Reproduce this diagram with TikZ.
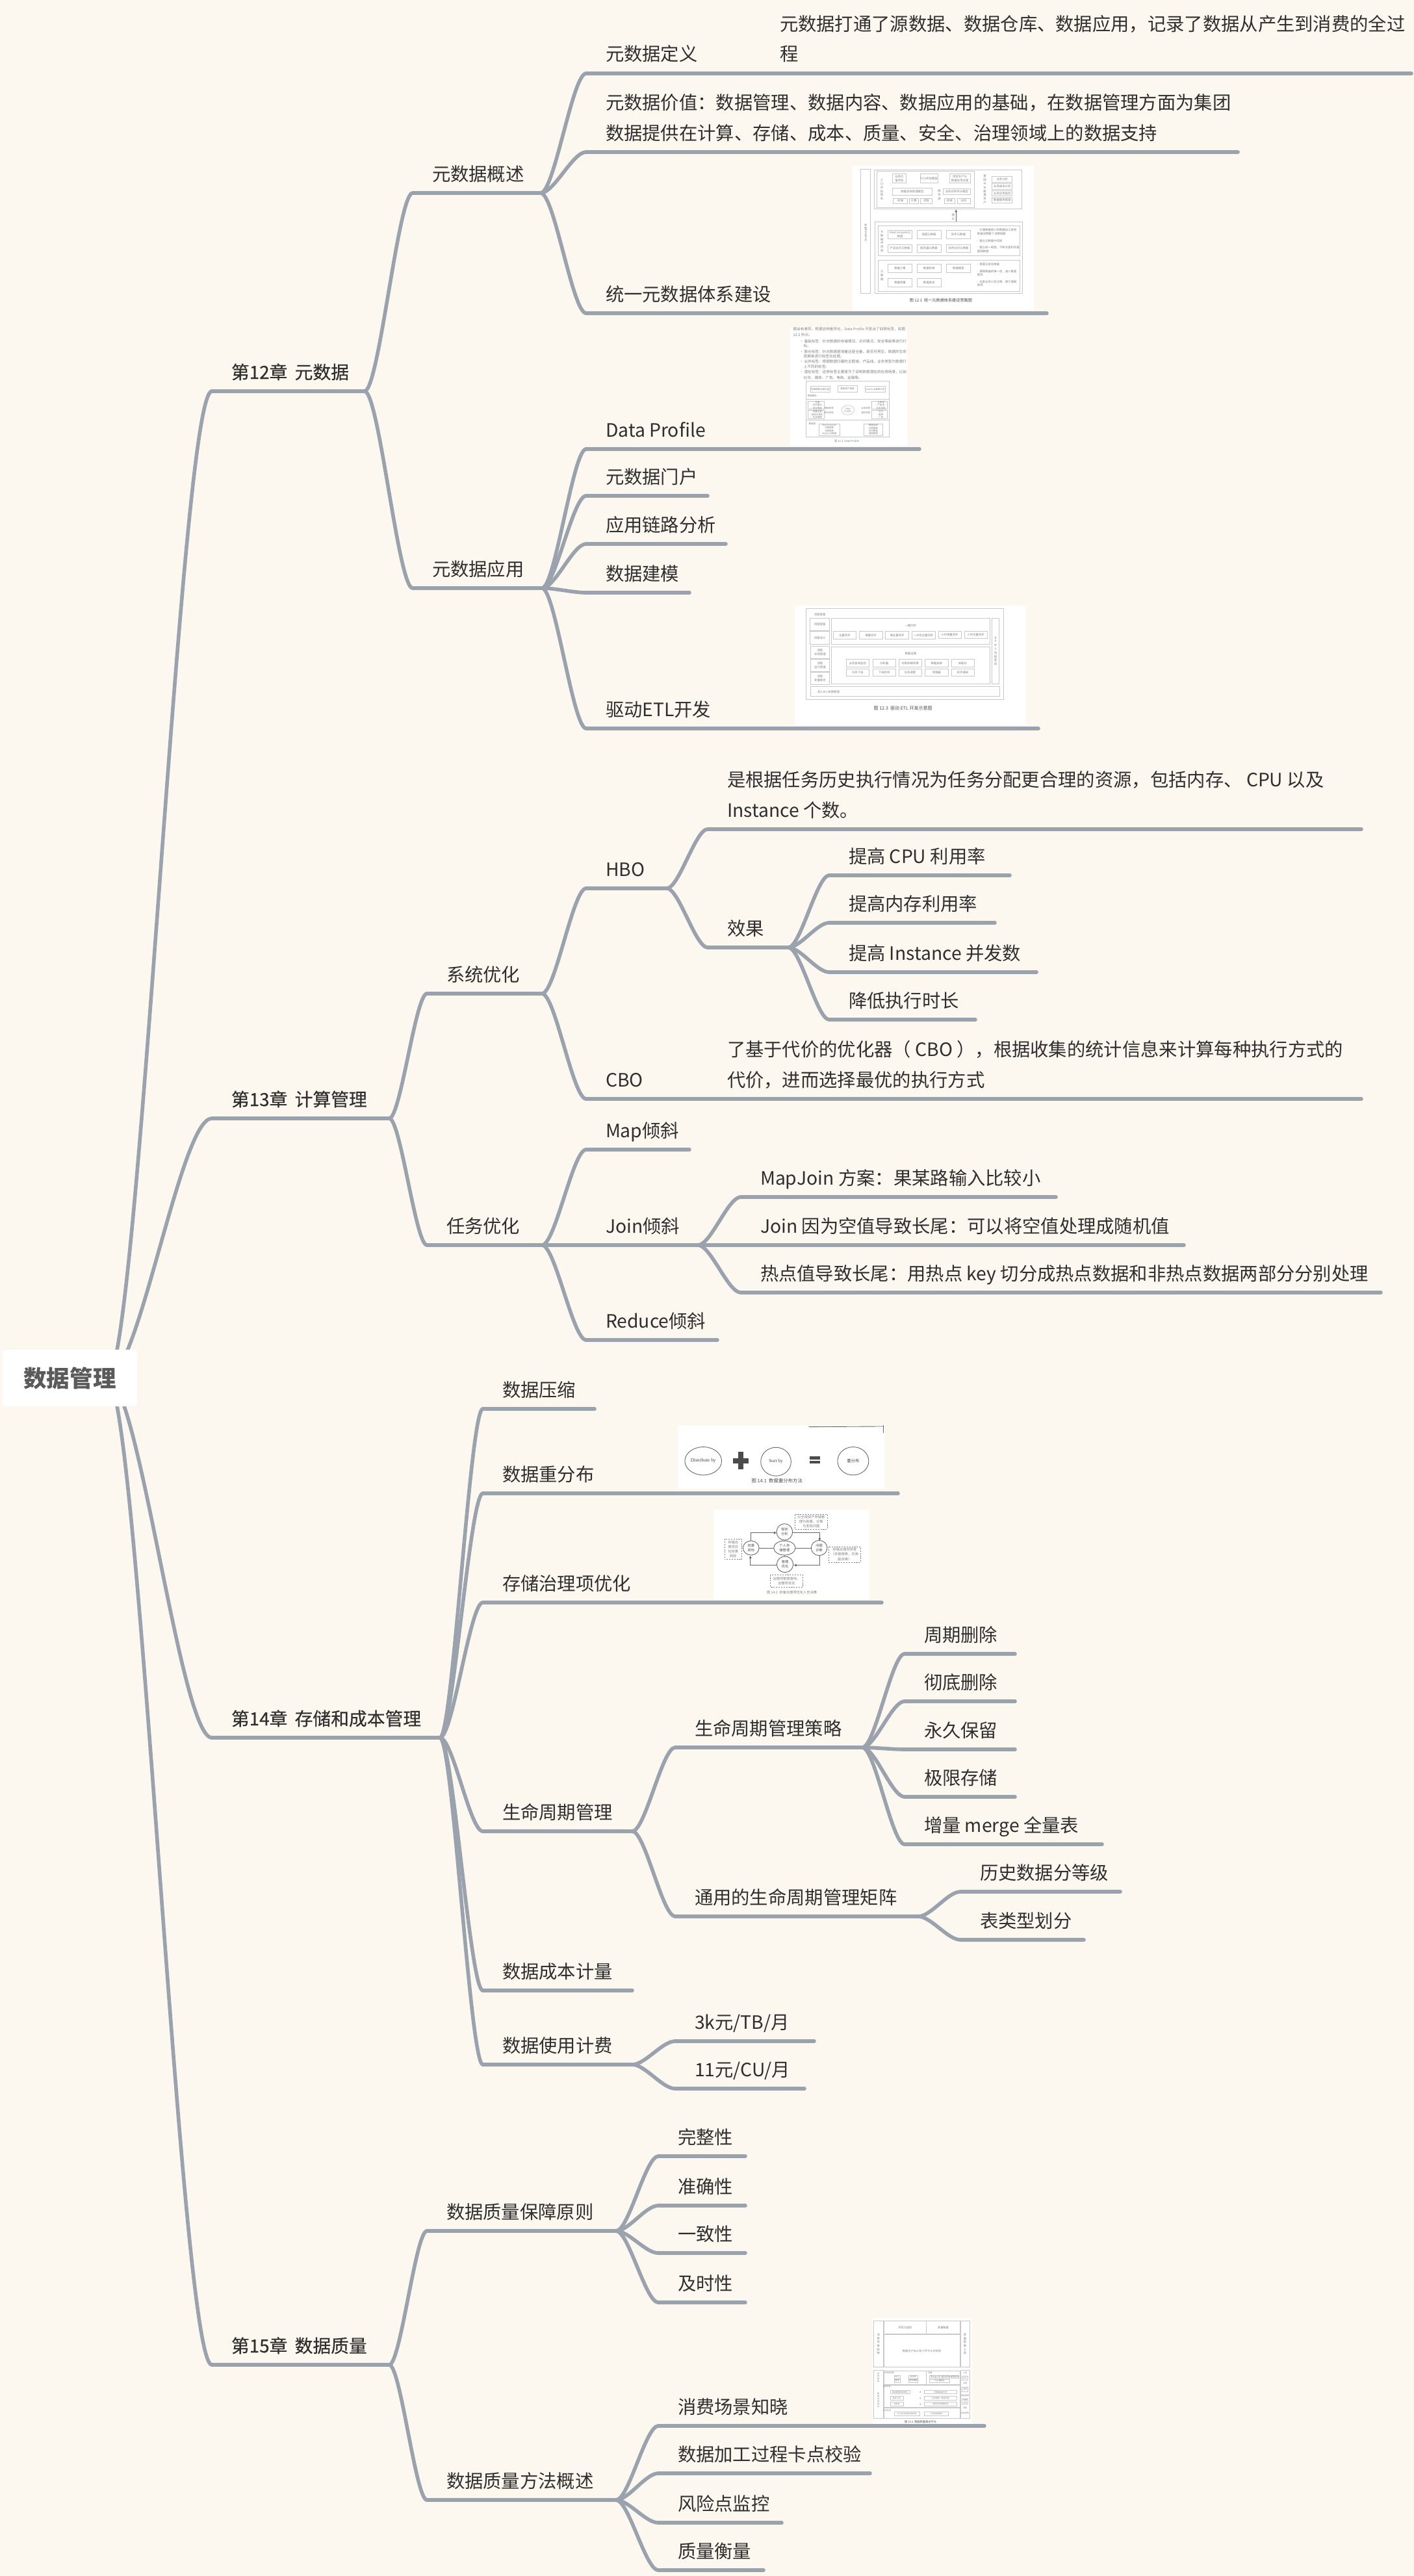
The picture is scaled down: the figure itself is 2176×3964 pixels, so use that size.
\documentclass[tikz,border=0pt]{standalone}
\usepackage{fontspec}
\setmainfont{Noto Sans CJK SC}
\newfontfamily\mdfont[FakeBold=0.4]{Noto Sans CJK SC}
\newfontfamily\serfont{Liberation Serif}
\usetikzlibrary{calc,arrows.meta}
\definecolor{bgc}{HTML}{FCF8F0}
\definecolor{linec}{HTML}{9AA3AD}
\definecolor{txtc}{HTML}{2E2E2E}
\definecolor{rootc}{HTML}{5A5A5A}
\definecolor{figl}{HTML}{C8C8C8}
\definecolor{figt}{HTML}{808080}
\pgfdeclarelayer{back}
\pgfdeclarelayer{bg}
\pgfsetlayers{back,bg,main}
\def\figa{1.25}\def\figb{1.65}\def\fdsz{1.75}
\tikzset{
  edge/.style={draw=linec,line width=1.6pt,line cap=round},
  tn/.style={inner xsep=0pt,inner ysep=5.4pt,outer sep=0pt,anchor=south west,text depth=0pt,text=txtc,font=\fontsize{8.05}{13.3}\selectfont},
  fbox/.style={draw=figl,line width=0.2pt},
  dbox/.style={draw=figt,line width=0.2pt,dashed,dash pattern=on 0.6pt off 0.5pt},
  ft/.style={inner sep=0pt,align=center,text=figt,font=\fontsize{\figa}{\figb}\selectfont},
  fd/.style={ft,text=black!70,font=\fontsize{\fdsz}{3}\selectfont},
  fl/.style={ft,anchor=west,align=left},
  figw/.style={fill=white,draw=none},
  fline/.style={draw=black!60,line width=0.25pt},
}
% name, x0, x1, y, text
\newcommand\bc[6][30]{%
  \pgfmathsetlengthmacro\nwid{(#4-#3)*0.01cm}%
  \pgfmathsetlengthmacro\nhs{#1*0.01cm}%
  \node[tn] (#2) at (#3,#5) {\makebox[\nwid][l]{\hspace{\nhs}\begin{tabular}[b]{@{}l@{}}#6\end{tabular}}};
  \draw[edge] (#2.south west) -- (#2.south east);}
\newcommand\bm[6][30]{%
  \pgfmathsetlengthmacro\nwid{(#4-#3)*0.01cm}%
  \pgfmathsetlengthmacro\nhs{#1*0.01cm}%
  \node[tn,font=\fontsize{7.9}{13.3}\mdfont] (#2) at (#3,#5) {\makebox[\nwid][l]{\hspace{\nhs}#6}};
  \draw[edge] (#2.south west) -- (#2.south east);}
\newcommand\cn[3][0.3]{%
  \begin{pgfonlayer}{bg}
  \draw[edge] let \p1=(#2.south east), \p2=(#3.south west) in
    (\p1) .. controls ({\x1+#1*(\x2-\x1)},\y1) and ({\x2-#1*(\x2-\x1)},\y2) .. (\p2);
  \end{pgfonlayer}}
\newcommand\crt[3][0.3]{%
  \begin{pgfonlayer}{bg}
  \draw[edge] let \p1=(#2), \p2=(#3.south west) in
    (\p1) .. controls ({\x1+#1*(\x2-\x1)},\y1) and ({\x2-#1*(\x2-\x1)},\y2) .. (\p2);
  \end{pgfonlayer}}
\newcounter{fign}
\newcommand\fb[5]{\stepcounter{fign}\draw[fbox] (#1,#2) rectangle (#3,#4); \node[ft,name=f\arabic{fign}] at ({(#1+#3)/2},{(#2+#4)/2}) {#5};}
\newcommand\ftx[3]{\stepcounter{fign}\node[ft,name=f\arabic{fign}] at (#1,#2) {#3};}
\newcommand\ftl[3]{\stepcounter{fign}\node[fl,name=f\arabic{fign}] at (#1,#2) {#3};}
\newcommand\fdt[3]{\stepcounter{fign}\node[fd,name=f\arabic{fign}] at (#1,#2) {#3};}
\newcommand\fe[6]{\stepcounter{fign}\draw[fline,fill=white] (#1,#2) ellipse [x radius=#3,y radius=#4]; \node[#5,name=f\arabic{fign}] at (#1,#2) {#6};}
\begin{document}
\begin{tikzpicture}[x=0.01cm,y=-0.01cm]
\useasboundingbox (0,0) rectangle (2176,3964);
\begin{pgfonlayer}{back}
\fill[bgc] (0,0) rectangle (2176,3964);
\end{pgfonlayer}

% ---------- Figure 12.1
\begin{scope}[shift={(1200,230)},x=0.00333333cm,y=-0.00333333cm]
\fill[figw] (335,75) rectangle (1175,745);
\fb{375}{92}{420}{665}{}
\ftx{397}{385}{\rotatebox{90}{OneMeta体系}}
\draw[fbox] (437,95) rectangle (1120,275);
\draw[fbox] (450,100) rectangle (900,268);
\ftx{472}{185}{入\\口\\评\\估\\体\\系}
\fb{520}{113}{585}{155}{业务价\\值评估}
\fb{650}{113}{730}{155}{TCO评估模型}
\fb{785}{113}{880}{155}{项目生产与\\数据应用治理}
\fb{520}{178}{705}{210}{数据资源管理模型}
\fb{525}{225}{590}{250}{存储}
\fb{600}{225}{640}{250}{计算}
\fb{650}{225}{705}{250}{流程}
\fb{755}{180}{880}{208}{业务应用评分模型}
\fb{760}{225}{810}{250}{存储}
\fb{820}{225}{880}{250}{访问}
\ftx{738}{210}{服\\务\\部}
\ftx{948}{185}{基\\础\\平\\台\\数\\据\\资\\产}
\fb{982}{125}{1075}{150}{业务分析}
\fb{982}{158}{1075}{183}{业务成本分析}
\fb{982}{190}{1075}{215}{业务应用监控}
\fb{982}{222}{1075}{247}{数据服务图谱}
\draw[fline,-{Latex[length=1.2pt,width=1.2pt]}] (815,335) -- (815,277);
\ftx{802}{312}{建\\议}
\draw[fbox] (440,335) rectangle (1122,665);
\draw[fbox] (455,352) rectangle (1110,492);
\ftx{473}{425}{大\\数\\据\\中\\间\\层}
\fb{500}{375}{612}{412}{MaxCompute元\\数据}
\fb{635}{375}{745}{412}{调度元数据}
\fb{770}{375}{882}{412}{同步元数据}
\fb{500}{440}{612}{475}{产品访问元数据}
\fb{635}{440}{745}{475}{服务器元数据}
\fb{770}{440}{882}{475}{应用访问元数据}
\ftl{905}{382}{· 打通数据接入到数据加工再到\\\ \ 数据消费整个消费链路}
\ftl{905}{423}{· 建立元数据中间层}
\ftl{905}{463}{· 建立统一视图^^^^ff0c不断丰富和完善\\\ \ 基础数据}
\draw[fbox] (455,512) rectangle (1110,655);
\ftx{473}{583}{元\\数\\据}
\fb{500}{530}{612}{570}{数据计算}
\fb{635}{530}{745}{570}{数据存储}
\fb{770}{530}{882}{570}{数据模型}
\fb{500}{595}{612}{635}{数据质量}
\fb{635}{595}{745}{635}{数据成本}
\ftl{905}{532}{· 梳理元信息数据}
\ftl{905}{572}{· 保障数据的唯一性^^^^ff0c减少重复\\\ \ 建设}
\ftl{905}{620}{· 丰富业务口径注释^^^^ff0c便于理解\\\ \ 使用}
\fdt{745}{698}{图 12.1\ \ 统一元数据体系建设思路图}

% ---------- Figure 12.2
\fill[figw] (48,820) rectangle (590,1370);
\def\figa{1.6}\def\figb{2.4}
\ftl{60}{832}{据会有差异。根据这种差异化^^^^ff0cData Profile 开发出了四类标签^^^^ff0c如图}
\ftl{60}{857}{12.2 所示。}
\ftl{90}{886}{• 基础标签^^^^ff1a针对数据的存储情况、访问情况、安全等级等进行打}
\ftl{108}{910}{标。}
\ftl{90}{935}{• 数仓标签^^^^ff1a针对数据是增量还是全量、是否可再生、数据的生命}
\ftl{108}{958}{周期来进行标签化处理。}
\ftl{90}{982}{• 业务标签^^^^ff1a根据数据归属的主题域、产品线、业务类型为数据打}
\ftl{108}{1006}{上不同的标签。}
\ftl{90}{1030}{• 潜在标签^^^^ff1a这类标签主要是为了说明数据潜在的应用场景^^^^ff0c比如}
\ftl{108}{1055}{社交、媒体、广告、电商、金融等。}
\def\figa{1}\def\figb{1.25}
\draw[fbox] (122,1072) rectangle (505,1330);
\fb{142}{1095}{232}{1122}{存储数据治理大盘}
\fb{268}{1092}{358}{1122}{数据资产视图}
\fb{395}{1095}{487}{1122}{OneClick数据工具}
\ftx{150}{1140}{数据服务}
\draw[fbox] (122,1155) rectangle (505,1252);
\fb{130}{1165}{205}{1200}{· 存储\\· 访问情况\\· 安全等级}
\fb{130}{1205}{205}{1245}{· 增量全量\\· 是否可再生\\· 生命周期}
\ftx{228}{1195}{基础标签}
\ftx{228}{1217}{数仓标签}
\ftx{398}{1195}{业务标签}
\ftx{398}{1217}{潜在标签}
\ftx{315}{1205}{Data\\Profile}
\draw[fbox] (315,1205) ellipse [x radius=30,y radius=22];
\fb{425}{1165}{498}{1200}{· 主题域\\· 产品线\\· 业务类型}
\fb{425}{1205}{498}{1245}{· 社交\\· 媒体\\· 广告}
\ftx{150}{1270}{数据源}
\fb{180}{1268}{278}{1322}{MaxCompute\\元数据表\\元数据表\\MySQL元数据}
\fb{390}{1268}{475}{1322}{数据血缘\\元数据表\\访问数据\\调度数据}
\def\figa{1.2}
\ftx{310}{1348}{图 12.2\ \ Data Profile}
\end{scope}

% ---------- Figure 12.3
\begin{scope}[shift={(1200,900)},x=0.00333333cm,y=-0.00333333cm]
\def\fdsz{2}
\fill[figw] (70,95) rectangle (1140,650);
\draw[fbox] (120,110) rectangle (1035,530);
\ftx{185}{137}{流程管理}
\fb{140}{155}{230}{210}{流程管理}
\fb{140}{215}{230}{275}{流程设计}
\fb{142}{282}{230}{340}{流程\\实例管理}
\fb{142}{345}{230}{400}{流程\\运行管理}
\fb{142}{405}{230}{460}{流程\\变量绑定}
\draw[fbox] (238,155) rectangle (972,275);
\ftx{605}{190}{一键同步}
\fb{248}{215}{352}{250}{全量同步}
\fb{367}{215}{475}{250}{增量同步}
\fb{488}{215}{597}{250}{增全量同步}
\fb{610}{215}{718}{250}{一次性全量同步}
\fb{733}{213}{838}{247}{小时增量同步}
\fb{853}{213}{960}{247}{小时全量同步}
\draw[fbox] (238,285) rectangle (972,458);
\ftx{605}{318}{数据运维}
\fb{307}{345}{413}{380}{业务查询监控}
\fb{430}{345}{535}{380}{分析器}
\fb{550}{345}{655}{380}{对象依赖转换}
\fb{672}{345}{778}{380}{数据血缘}
\fb{793}{345}{898}{380}{单备份}
\fb{307}{388}{413}{422}{任务下线}
\fb{430}{388}{535}{422}{下线检测}
\fb{550}{388}{655}{422}{任务调度}
\fb{672}{388}{778}{422}{清理器}
\fb{793}{388}{898}{422}{异步通知}
\fb{980}{155}{1015}{458}{B\\P\\M\\S\\流\\程\\驱\\动}
\draw[fbox] (142,470) rectangle (1018,516);
\ftx{225}{496}{流入ACL权限管理}
\fdt{570}{571}{图 12.3\ \ 驱动 ETL 开发示意图}
\end{scope}

% ---------- Figure 14.1 and 14.2
\begin{scope}[shift={(1020,2170)},x=0.00333333cm,y=-0.00333333cm]
\def\fdsz{2.1}
\def\figa{1.5}\def\figb{2}
\fill[figw] (70,70) rectangle (1025,365);
\draw[fline] (675,77) -- (1020,75);
\draw[fline] (1020,70) -- (1020,105);
\fe{187}{235}{85}{65}{ft,text=black!75,font=\fontsize{2.1}{3}\serfont}{Distribute by}
\fill[black!70] (350,193) rectangle (372,273);
\fill[black!70] (323,222) rectangle (397,245);
\fe{523}{238}{70}{66}{ft,text=black!75,font=\fontsize{2.1}{3}\serfont}{Sort by}
\fill[black!70] (678,213) rectangle (728,229);
\fill[black!70] (678,233) rectangle (728,247);
\fe{880}{235}{72}{65}{ft,text=black!75,font=\fontsize{1.8}{3}\selectfont}{重分布}
\fdt{528}{326}{图 14.1\ \ 数据重分布方法}

\fill[figw] (235,460) rectangle (955,875);
\draw[fline,-{Latex[length=1.2pt,width=1.2pt]}] (408,604) |- (527,567);
\draw[fline,-{Latex[length=1.2pt,width=1.2pt]}] (600,567) -| (725,605);
\draw[fline,-{Latex[length=1.2pt,width=1.2pt]}] (725,672) |- (605,717);
\draw[fline,-{Latex[length=1.2pt,width=1.2pt]}] (527,717) -| (405,672);
\draw[fline] (445,637) -- (513,637);
\draw[fline] (613,637) -- (686,637);
\draw[fline] (563,601) -- (563,604);
\draw[fline] (563,670) -- (563,676);
\fe{563}{563}{37}{38}{ft,text=black!70}{现状\\分析}
\fe{563}{637}{50}{33}{ft,text=black!70}{个人存\\储管理}
\fe{723}{637}{37}{35}{ft,text=black!70}{问题\\诊断}
\fe{408}{637}{37}{33}{ft,text=black!70}{效果\\目标}
\fe{565}{713}{38}{37}{ft,text=black!70}{管理\\优化}
\draw[dbox] (610,483) rectangle (762,550);
\ftx{686}{516}{以全域资产存储管\\理为视角^^^^ff0c诊断\\与发现问题}
\draw[dbox] (285,595) rectangle (365,690);
\ftx{325}{642}{存储治\\理项优\\化效果\\回收}
\draw[dbox] (767,632) rectangle (915,703);
\ftx{841}{667}{存储治理项排查\\^^^^ff08未管理表^^^^ff0c无用\\副本等^^^^ff09}
\draw[dbox] (497,762) rectangle (647,817);
\ftx{572}{790}{治理项管理落地^^^^ff0c\\治理项优化}
\ftx{597}{842}{图 14.2\ \ 存储治理项优化人员决策}
\end{scope}

% ---------- Figure 15.2
\begin{scope}[shift={(1320,3550)},x=0.00333333cm,y=-0.00333333cm]
\def\figa{1.2}\def\figb{1.6}\def\fdsz{1.2}
\fill[figw] (70,50) rectangle (528,545);
\fb{72}{65}{118}{278}{消\\费\\场\\景\\知\\晓}
\fb{120}{65}{318}{125}{风险点监控}
\fb{318}{65}{472}{125}{质量衡量}
\fb{120}{127}{472}{278}{数据生产加工各个环节卡点校验}
\fb{475}{65}{517}{278}{质\\量\\配\\套\\工\\具}
\def\figa{0.85}\def\figb{1.15}
\draw[fbox] (72,293) rectangle (118,515);
\ftx{95}{325}{流\\程\\制\\度}
\ftx{95}{430}{数\\据\\治\\理\\规\\范}
\draw[fbox] (120,295) rectangle (315,357);
\ftx{146}{303}{应用层告警}
\fb{168}{315}{195}{330}{DQC}
\fb{235}{315}{278}{330}{规则库}
\fb{168}{333}{195}{348}{离线}
\fb{235}{333}{278}{348}{实时预警}
\draw[fbox] (318,295) rectangle (472,357);
\ftx{335}{303}{质量}
\fb{333}{315}{360}{328}{影响}
\fb{362}{315}{388}{328}{分析}
\fb{390}{315}{425}{328}{基线管理}
\fb{430}{315}{468}{328}{质量报告}
\fb{333}{333}{425}{350}{DQC覆盖度}
\draw[fbox] (120,360) rectangle (472,463);
\ftx{135}{369}{事后系统}
\fb{150}{385}{240}{402}{离线数据校验规则}
\fb{308}{385}{458}{402}{元数据血缘分析}
\fb{150}{413}{210}{430}{监控工具}
\fb{308}{413}{458}{430}{在线离线一致性校验}
\fb{150}{441}{210}{458}{对账单}
\fb{308}{441}{458}{458}{离线实时数据校验}
\draw[fill=figt,draw=none] (287,390) -- (293,393) -- (287,396) -- cycle;
\draw[fill=figt,draw=none] (287,418) -- (293,421) -- (287,424) -- cycle;
\draw[fill=figt,draw=none] (287,446) -- (293,449) -- (287,452) -- cycle;
\draw[fbox] (120,467) rectangle (472,515);
\ftx{135}{479}{业务系统}
\fb{170}{485}{285}{502}{ACL访问控制业务校验}
\fb{308}{485}{420}{502}{业务校验规则}
\draw[fbox] (475,293) rectangle (517,515);
\ftx{496}{305}{工具}
\fb{483}{320}{510}{336}{DQC}
\ftx{496}{354}{治理}
\fb{483}{370}{510}{392}{监控}
\ftx{496}{410}{基线管理}
\fb{483}{425}{510}{450}{血缘\\分析}
\ftx{496}{467}{流程}
\ftx{496}{492}{基线管理}
\fdt{290}{530}{图 15.2\ \ 数据质量建设平台}
\end{scope}

% ---------- root
\node[fill=white,rounded corners=1.2pt,minimum width=2.07cm,minimum height=0.87cm,inner sep=0pt,text=rootc,font=\fontsize{10.1}{12}\selectfont\bfseries] (root) at (107.5,2120.5) {数据管理};
\coordinate (rootj) at (165,2120.5);

% ---------- tree
\bm{c12}{326}{561}{602}{第12章\hspace{0.05cm} 元数据}
\bm{c13}{326}{599}{1721}{第13章\hspace{0.05cm} 计算管理}
\bm{c14}{326}{677}{2674}{第14章\hspace{0.05cm} 存储和成本管理}
\bm{c15}{326}{599}{3639}{第15章\hspace{0.05cm} 数据质量}

\bc{a1}{635}{832}{297}{元数据概述}
\bc{a2}{635}{834}{905}{元数据应用}
\bc{b1}{657}{834}{1529}{系统优化}
\bc{b2}{657}{834}{1916}{任务优化}
\bc{d1}{743}{915}{2168}{数据压缩}
\bc{d2}{743}{1382}{2298}{数据重分布}
\bc{d3}{743}{1357}{2466}{存储治理项优化}
\bc{d4}{743}{973}{2818}{生命周期管理}
\bc{d5}{743}{973}{3063}{数据成本计量}
\bc{d6}{743}{973}{3177}{数据使用计费}
\bc{e1}{657}{948}{3433}{数据质量保障原则}
\bc{e2}{657}{948}{3847}{数据质量方法概述}

\bc{a11}{902}{1170}{113}{元数据定义}
\bc{a11n}{1170}{2172}{113}{元数据打通了源数据、数据仓库、数据应用^^^^ff0c记录了数据从产生到消费的全过\\程}
\bc{a12}{902}{1905}{234}{元数据价值^^^^ff1a数据管理、数据内容、数据应用的基础^^^^ff0c在数据管理方面为集团\\数据提供在计算、存储、成本、质量、安全、治理领域上的数据支持}
\bc{a13}{902}{1611}{482}{统一元数据体系建设}
\bc{a21}{902}{1415}{691}{Data Profile}
\bc{a22}{902}{1089}{763}{元数据门户}
\bc{a23}{902}{1117}{837}{应用链路分析}
\bc{a24}{902}{1061}{912}{数据建模}
\bc{a25}{902}{1598}{1121}{驱动ETL开发}

\bc{h1}{902}{1026}{1367}{HBO}
\bc{h2}{902}{1089}{1691}{CBO}
\bc{h2n}{1089}{2095}{1691}{了基于代价的优化器^^^^ff08 CBO ^^^^ff09^^^^ff0c根据收集的统计信息来计算每种执行方式的\\代价^^^^ff0c进而选择最优的执行方式}
\bc{j1}{902}{1061}{1769}{Map倾斜}
\bc{j2}{902}{1074}{1916}{Join倾斜}
\bc{j3}{902}{1104}{2062}{Reduce倾斜}

\bc{h11}{1089}{2095}{1276}{是根据任务历史执行情况为任务分配更合理的资源^^^^ff0c包括内存、 CPU 以及\\Instance 个数。}
\bc{h12}{1089}{1213}{1458}{效果}
\bc{p1}{1276}{1554}{1347}{提高 CPU 利用率}
\bc{p2}{1276}{1531}{1420}{提高内存利用率}
\bc{p3}{1276}{1595}{1496}{提高 Instance 并发数}
\bc{p4}{1276}{1501}{1569}{降低执行时长}

\bc{j21}{1140}{1625}{1842}{MapJoin 方案^^^^ff1a果某路输入比较小}
\bc{j22}{1140}{1822}{1916}{Join 因为空值导致长尾^^^^ff1a可以将空值处理成随机值}
\bc{j23}{1140}{2125}{1989}{热点值导致长尾^^^^ff1a用热点 key 切分成热点数据和非热点数据两部分分别处理}

\bc{m1}{1039}{1327}{2689}{生命周期管理策略}
\bc{m2}{1039}{1413}{2949}{通用的生命周期管理矩阵}
\bc{n1}{1392}{1562}{2545}{周期删除}
\bc{n2}{1392}{1562}{2618}{彻底删除}
\bc{n3}{1392}{1562}{2692}{永久保留}
\bc{n4}{1392}{1562}{2765}{极限存储}
\bc{n5}{1392}{1696}{2838}{增量 merge 全量表}
\bc{q1}{1478}{1724}{2911}{历史数据分等级}
\bc{q2}{1478}{1668}{2985}{表类型划分}
\bc{r1}{1039}{1253}{3141}{3k元/TB/月}
\bc{r2}{1039}{1238}{3214}{11元/CU/月}

\bc{u1}{1013}{1147}{3318}{完整性}
\bc{u2}{1013}{1147}{3394}{准确性}
\bc{u3}{1013}{1147}{3467}{一致性}
\bc{u4}{1013}{1147}{3543}{及时性}
\bc{v1}{1013}{1515}{3733}{消费场景知晓}
\bc{v2}{1013}{1339}{3806}{数据加工过程卡点校验}
\bc{v3}{1013}{1203}{3882}{风险点监控}
\bc{v4}{1013}{1175}{3955}{质量衡量}

% ---------- connectors
\crt{rootj}{c12}\crt{rootj}{c13}\crt{rootj}{c14}\crt{rootj}{c15}
\cn{c12}{a1}\cn{c12}{a2}
\cn{c13}{b1}\cn{c13}{b2}
\cn{c14}{d1}\cn{c14}{d2}\cn{c14}{d3}\cn{c14}{d4}\cn{c14}{d5}\cn{c14}{d6}
\cn{c15}{e1}\cn{c15}{e2}
\cn{a1}{a11}\cn{a1}{a12}\cn{a1}{a13}
\cn{a2}{a21}\cn{a2}{a22}\cn{a2}{a23}\cn{a2}{a24}\cn{a2}{a25}
\cn{b1}{h1}\cn{b1}{h2}
\cn{b2}{j1}\cn{b2}{j2}\cn{b2}{j3}
\cn{h1}{h11}\cn{h1}{h12}
\cn{h12}{p1}\cn{h12}{p2}\cn{h12}{p3}\cn{h12}{p4}
\cn{j2}{j21}\cn{j2}{j22}\cn{j2}{j23}
\cn{d4}{m1}\cn{d4}{m2}
\cn{m1}{n1}\cn{m1}{n2}\cn{m1}{n3}\cn{m1}{n4}\cn{m1}{n5}
\cn{m2}{q1}\cn{m2}{q2}
\cn{d6}{r1}\cn{d6}{r2}
\cn{e1}{u1}\cn{e1}{u2}\cn{e1}{u3}\cn{e1}{u4}
\cn{e2}{v1}\cn{e2}{v2}\cn{e2}{v3}\cn{e2}{v4}
\end{tikzpicture}
\end{document}
